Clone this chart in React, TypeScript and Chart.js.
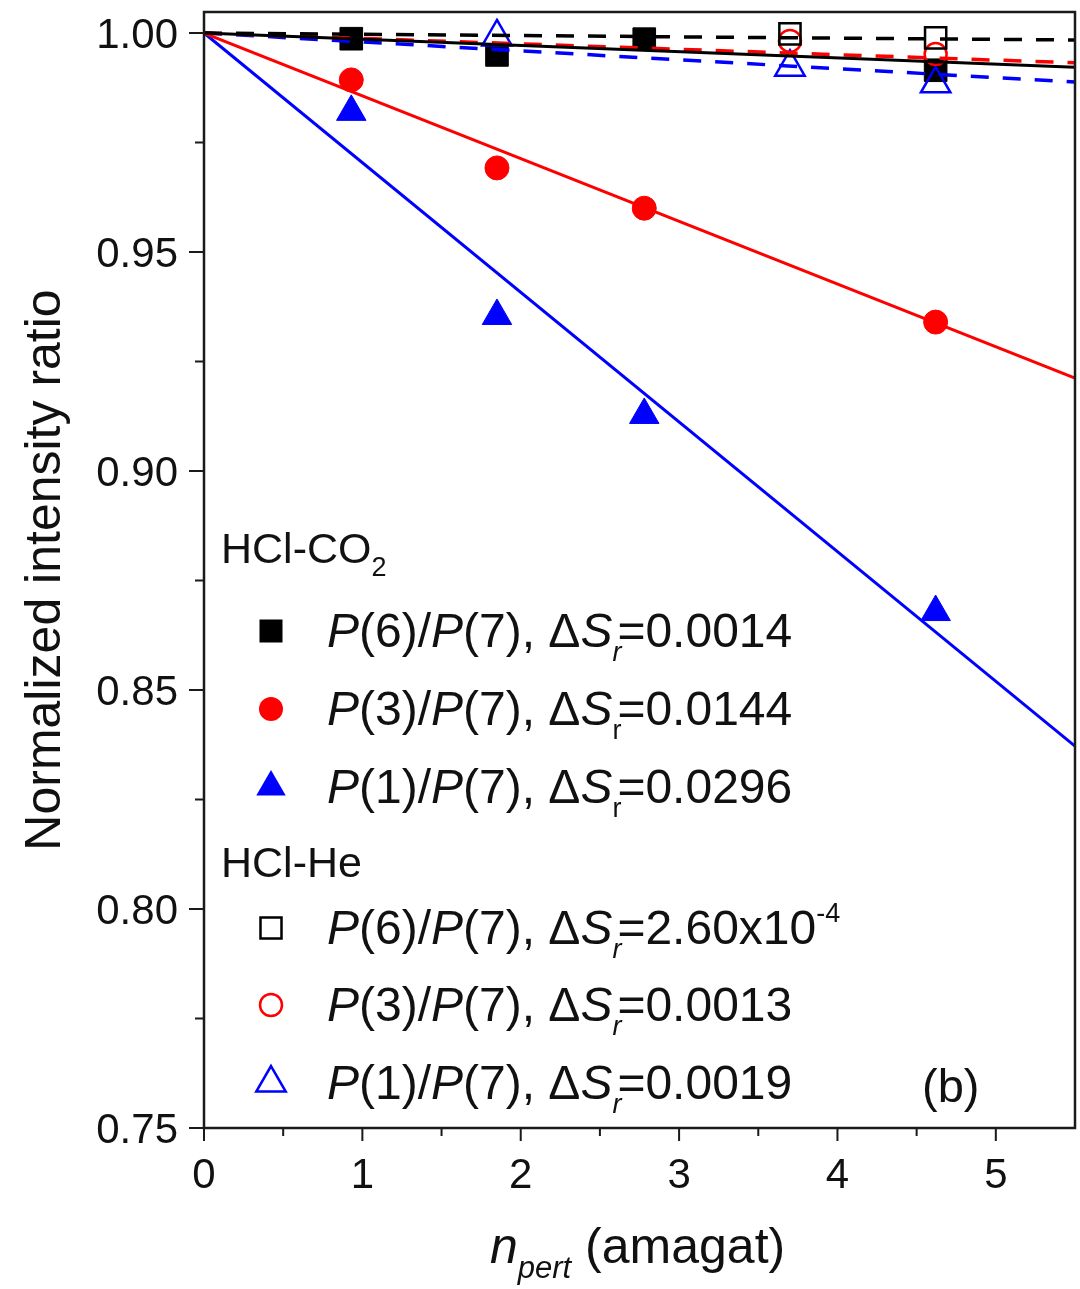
import React, { useEffect, useRef } from 'react';
import { Chart, registerables } from 'chart.js';

Chart.register(...registerables);

// ---- data ----
const xCO2 = [0.93, 1.85, 2.78, 4.62];
const co2P6 = [0.9987, 0.995, 0.9986, 0.9915];
const co2P3 = [0.9893, 0.9692, 0.96, 0.934];
const co2P1 = [0.982, 0.9354, 0.9128, 0.8678];

const xHeP6 = [3.7, 4.62];
const heP6 = [0.9998, 0.9989];
const xHeP3 = [3.7, 4.62];
const heP3 = [0.9982, 0.9952];
const xHeP1 = [1.85, 3.7, 4.62];
const heP1 = [0.9991, 0.9922, 0.9884];

// fitted lines: values at the two ends of the x range
const fitX = [0, 5.5];
const fitCO2P6 = [1.0, 0.9922];
const fitCO2P3 = [1.0, 0.9212];
const fitCO2P1 = [1.0, 0.8372];
const fitHeP6 = [1.0, 0.9984];
const fitHeP3 = [1.0, 0.9932];
const fitHeP1 = [1.0, 0.9888];

const xTicks = [0, 1, 2, 3, 4, 5];
const xTickLabels = ['0', '1', '2', '3', '4', '5'];
const xMinorTicks = [0.5, 1.5, 2.5, 3.5, 4.5];
const yTicks = [0.75, 0.8, 0.85, 0.9, 0.95, 1.0];
const yTickLabels = ['0.75', '0.80', '0.85', '0.90', '0.95', '1.00'];
const yMinorTicks = [0.775, 0.825, 0.875, 0.925, 0.975];

const groupCO2 = 'HCl-CO';
const groupHe = 'HCl-He';
const legendP = ['(6)/', '(3)/', '(1)/', '(6)/', '(3)/', '(1)/'];
const legendVals = ['=0.0014', '=0.0144', '=0.0296', '=2.60x10', '=0.0013', '=0.0019'];

const RED = '#ff0000';
const BLUE = '#0000ff';
const BLACK = '#000000';
const FONT = '"Liberation Sans", Arial, Helvetica, sans-serif';

const pts = (xs: number[], ys: number[]) => xs.map((x, i) => ({ x, y: ys[i] }));

type Seg = { t: string; it?: boolean; sub?: boolean; sup?: boolean; adv?: number };

function drawRich(ctx: CanvasRenderingContext2D, x: number, y: number, segs: Seg[], size: number, subSize: number) {
  let cx = x;
  for (const s of segs) {
    const small = s.sub || s.sup;
    const fs = small ? subSize : size;
    ctx.font = `${s.it ? 'italic ' : ''}${fs}px ${FONT}`;
    const dy = s.sub ? size * 0.3 : s.sup ? -size * 0.45 : 0;
    ctx.fillText(s.t, cx, y + dy);
    const w = ctx.measureText(s.t).width;
    cx += w * (s.adv ?? 1);
  }
  return cx;
}

function drawMarker(ctx: CanvasRenderingContext2D, kind: string, filled: boolean, color: string, x: number, y: number) {
  ctx.save();
  ctx.beginPath();
  if (kind === 'rect') {
    const h = filled ? 11.5 : 10.5;
    ctx.rect(x - h, y - h, 2 * h, 2 * h);
  } else if (kind === 'circle') {
    ctx.arc(x, y, filled ? 12 : 11, 0, Math.PI * 2);
  } else {
    const r = 17;
    ctx.moveTo(x, y - r);
    ctx.lineTo(x + r * Math.sqrt(3) / 2, y + r / 2);
    ctx.lineTo(x - r * Math.sqrt(3) / 2, y + r / 2);
    ctx.closePath();
  }
  if (filled) {
    ctx.fillStyle = color;
    ctx.fill();
  } else {
    ctx.strokeStyle = color;
    ctx.lineWidth = 2.5;
    ctx.stroke();
  }
  ctx.restore();
}

const decorPlugin = {
  id: 'decor',
  afterDraw(chart: any) {
    const ctx: CanvasRenderingContext2D = chart.ctx;
    const { left, right, top, bottom } = chart.chartArea;
    const xs = chart.scales.x;
    const ys = chart.scales.y;
    ctx.save();
    // frame
    ctx.strokeStyle = '#1a1a1a';
    ctx.lineWidth = 2.5;
    ctx.strokeRect(left, top, right - left, bottom - top);

    // ticks
    ctx.lineWidth = 2;
    ctx.beginPath();
    xTicks.forEach((v) => {
      const px = xs.getPixelForValue(v);
      ctx.moveTo(px, bottom);
      ctx.lineTo(px, bottom + 13);
    });
    xMinorTicks.forEach((v) => {
      const px = xs.getPixelForValue(v);
      ctx.moveTo(px, bottom);
      ctx.lineTo(px, bottom + 8);
    });
    yTicks.forEach((v) => {
      const py = ys.getPixelForValue(v);
      ctx.moveTo(left, py);
      ctx.lineTo(left - 15, py);
    });
    yMinorTicks.forEach((v) => {
      const py = ys.getPixelForValue(v);
      ctx.moveTo(left, py);
      ctx.lineTo(left - 9, py);
    });
    ctx.stroke();

    // tick labels
    ctx.fillStyle = '#111';
    ctx.font = `42px ${FONT}`;
    ctx.textBaseline = 'alphabetic';
    ctx.textAlign = 'center';
    xTicks.forEach((v, i) => {
      ctx.fillText(xTickLabels[i], xs.getPixelForValue(v), bottom + 60);
    });
    ctx.textAlign = 'right';
    yTicks.forEach((v, i) => {
      ctx.fillText(yTickLabels[i], left - 26, ys.getPixelForValue(v) + 15);
    });

    // y title
    ctx.save();
    ctx.translate(60, 570);
    ctx.rotate(-Math.PI / 2);
    ctx.textAlign = 'center';
    ctx.font = `50px ${FONT}`;
    ctx.fillText('Normalized intensity ratio', 0, 0);
    ctx.restore();

    // x title
    ctx.textAlign = 'left';
    drawRich(ctx, 490, 1263, [
      { t: 'n', it: true },
      { t: 'pert', it: true, sub: true },
      { t: ' (amagat)' },
    ], 50, 31);

    // legend
    ctx.fillStyle = '#111';
    drawRich(ctx, 221, 563, [{ t: groupCO2 }, { t: '2', sub: true }], 43, 27);
    drawRich(ctx, 221, 877, [{ t: groupHe }], 43, 27);
    const rows = [
      { y: 647, kind: 'rect', filled: true, color: BLACK, rIt: true, sup: '' },
      { y: 725, kind: 'circle', filled: true, color: RED, rIt: false, sup: '' },
      { y: 803, kind: 'triangle', filled: true, color: BLUE, rIt: false, sup: '' },
      { y: 944, kind: 'rect', filled: false, color: BLACK, rIt: true, sup: '-4' },
      { y: 1021, kind: 'circle', filled: false, color: RED, rIt: true, sup: '' },
      { y: 1099, kind: 'triangle', filled: false, color: BLUE, rIt: true, sup: '' },
    ];
    rows.forEach((r, i) => {
      drawMarker(ctx, r.kind, r.filled, r.color, 271, r.y - 16);
      ctx.fillStyle = '#111';
      const segs: Seg[] = [
        { t: 'P', it: true },
        { t: legendP[i] },
        { t: 'P', it: true },
        { t: '(7), Δ' },
        { t: 'S', it: true },
        { t: 'r', it: r.rIt, sub: true, adv: 0.55 },
        { t: legendVals[i] },
      ];
      if (r.sup) segs.push({ t: r.sup, sup: true });
      drawRich(ctx, 327, r.y, segs, 48, 27);
    });

    // panel label
    ctx.font = `47px ${FONT}`;
    ctx.fillText('(b)', 922, 1102);
    ctx.restore();
  },
};

export default function App() {
  const ref = useRef<HTMLCanvasElement | null>(null);

  useEffect(() => {
    document.body.style.margin = '0';
    const canvas = ref.current;
    if (!canvas) return;

    const lineDs = (ys: number[], color: string, dashed: boolean) => ({
      data: pts(fitX, ys),
      showLine: true,
      borderColor: color,
      borderWidth: dashed ? 3.5 : 3,
      borderDash: dashed ? [18, 14] : [],
      pointRadius: 0,
      fill: false,
      order: 0,
    });
    const markDs = (xs: number[], ys: number[], style: string, radius: number, color: string, filled: boolean, order: number) => ({
      data: pts(xs, ys),
      showLine: false,
      pointStyle: style,
      pointRadius: radius,
      pointBackgroundColor: filled ? color : 'rgba(0,0,0,0)',
      pointBorderColor: color,
      pointBorderWidth: filled ? 1 : 2.5,
      order,
    });

    const chart = new Chart(canvas, {
      type: 'scatter',
      data: {
        datasets: [
          lineDs(fitCO2P6, BLACK, false),
          lineDs(fitCO2P3, RED, false),
          lineDs(fitCO2P1, BLUE, false),
          lineDs(fitHeP6, BLACK, true),
          lineDs(fitHeP3, RED, true),
          lineDs(fitHeP1, BLUE, true),
          markDs(xCO2, co2P6, 'rect', 16, BLACK, true, 2),
          markDs(xCO2, co2P3, 'circle', 12, RED, true, 2),
          markDs(xCO2, co2P1, 'triangle', 17, BLUE, true, 2),
          markDs(xHeP6, heP6, 'rect', 15, BLACK, false, 1),
          markDs(xHeP3, heP3, 'circle', 11, RED, false, 1),
          markDs(xHeP1, heP1, 'triangle', 17, BLUE, false, 1),
        ] as any,
      },
      options: {
        responsive: false,
        animation: false,
        events: [],
        layout: { autoPadding: false, padding: { top: 12, right: 5, left: 0, bottom: 0 } },
        plugins: { legend: { display: false }, tooltip: { enabled: false } },
        scales: {
          x: {
            type: 'linear',
            min: 0,
            max: 5.5,
            ticks: { display: false },
            grid: { display: false, drawTicks: false },
            border: { display: false },
            afterFit: (s: any) => {
              s.height = 161;
            },
          },
          y: {
            type: 'linear',
            min: 0.75,
            max: 1.0048,
            ticks: { display: false },
            grid: { display: false, drawTicks: false },
            border: { display: false },
            afterFit: (s: any) => {
              s.width = 204;
            },
          },
        },
      } as any,
      plugins: [decorPlugin],
    });
    return () => chart.destroy();
  }, []);

  return (
    <div style={{ width: 1080, height: 1289, background: '#fff' }}>
      <canvas ref={ref} width={1080} height={1289} style={{ display: 'block' }} />
    </div>
  );
}
